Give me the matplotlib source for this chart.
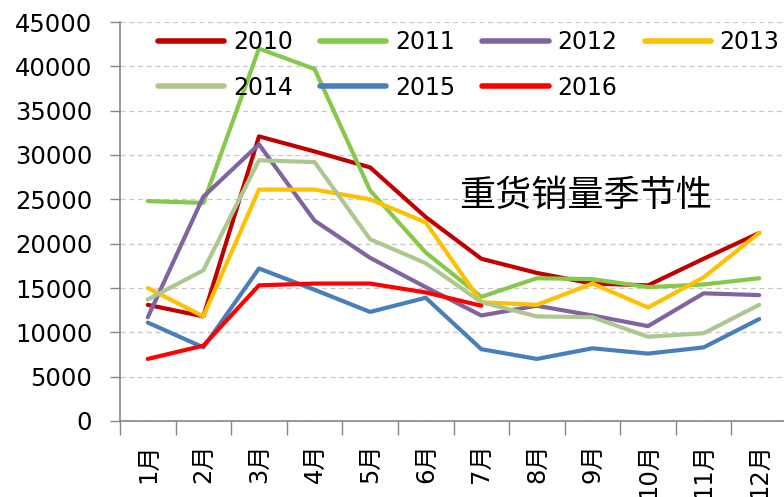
import matplotlib
matplotlib.use("Agg")
import matplotlib.pyplot as plt
import numpy as np

plt.rcParams['font.family'] = ['DejaVu Sans', 'Noto Sans CJK SC']

months = ["1月", "2月", "3月", "4月", "5月", "6月", "7月", "8月", "9月", "10月", "11月", "12月"]
years = ["2010", "2011", "2012", "2013", "2014", "2015", "2016"]
s2010 = [13100, 11800, 32100, 30400, 28600, 23000, 18300, 16700, 15500, 15300, 18300, 21200]
s2011 = [24800, 24600, 42000, 39700, 26000, 19000, 14000, 16100, 16000, 15100, 15400, 16100]
s2012 = [11700, 25300, 31200, 22600, 18400, 15100, 11900, 13000, 11900, 10700, 14400, 14200]
s2013 = [15000, 11800, 26100, 26100, 25000, 22400, 13400, 13100, 15500, 12800, 16200, 21200]
s2014 = [13700, 17000, 29400, 29200, 20500, 17800, 13400, 11800, 11700, 9500, 9900, 13100]
s2015 = [11100, 8300, 17200, 14800, 12300, 13900, 8100, 7000, 8200, 7600, 8300, 11500]
s2016 = [7000, 8500, 15300, 15500, 15500, 14500, 13000]
series = [s2010, s2011, s2012, s2013, s2014, s2015, s2016]
colors = ["#C00000", "#86C84A", "#8064A2", "#FFC000", "#ADC88F", "#4A7EBB", "#FF0000"]
title_text = "重货销量季节性"

W, H = 784, 497
fig = plt.figure(figsize=(W / 100, H / 100), dpi=100)
ax = fig.add_axes([120 / W, (H - 421) / H, 667 / W, 399 / H])

handles = []
for name, vals, c in zip(years, series, colors):
    x = np.arange(len(vals))
    ln, = ax.plot(x, vals, color=c, lw=3, label=name, solid_capstyle='round', solid_joinstyle='round')
    handles.append(ln)

ax.set_xlim(-0.5, 11.5)
ax.set_ylim(0, 45000)
ax.set_yticks(np.arange(0, 45001, 5000))
ax.set_yticklabels([str(v) for v in range(0, 45001, 5000)], fontsize=17.5)
ax.yaxis.grid(True, linestyle=(0, (4, 3)), color="#C8C8C8", lw=0.9)
ax.set_axisbelow(True)

ax.set_xticks(np.arange(-0.5, 12, 1))
ax.set_xticklabels([])
ax.set_xticks(np.arange(12), minor=True)
ax.set_xticklabels(months, minor=True, rotation=90, fontsize=17.5, ha='center', va='top')
ax.tick_params(axis='x', which='minor', length=0, pad=16)
ax.tick_params(axis='x', which='major', length=10, width=1, color="#868686", direction='out')
ax.tick_params(axis='y', length=7, width=1, color="#868686", pad=13, direction='out')

for s in ['top', 'right']:
    ax.spines[s].set_visible(False)
for s in ['left', 'bottom']:
    ax.spines[s].set_color("#868686")
    ax.spines[s].set_linewidth(1.2)

# row-wise legend order (matplotlib fills column by column)
order = [0, 4, 1, 5, 2, 6, 3]
leg = fig.legend([handles[i] for i in order], [years[i] for i in order],
                 loc='upper left', bbox_to_anchor=(158 / W, 1 - 30 / H), ncol=4,
                 frameon=False, fontsize=17, handlelength=2.8, handletextpad=0.38,
                 columnspacing=1.15, labelspacing=0.92, borderpad=0, borderaxespad=0)
for lh in leg.get_lines():
    lh.set_linewidth(4)
    lh.set_solid_capstyle('round')

fig.text(586 / W, 1 - 196 / H, title_text, fontsize=26, ha='center', va='center',
         family=['Noto Sans CJK SC'])

fig.savefig("out.png", dpi=100)
